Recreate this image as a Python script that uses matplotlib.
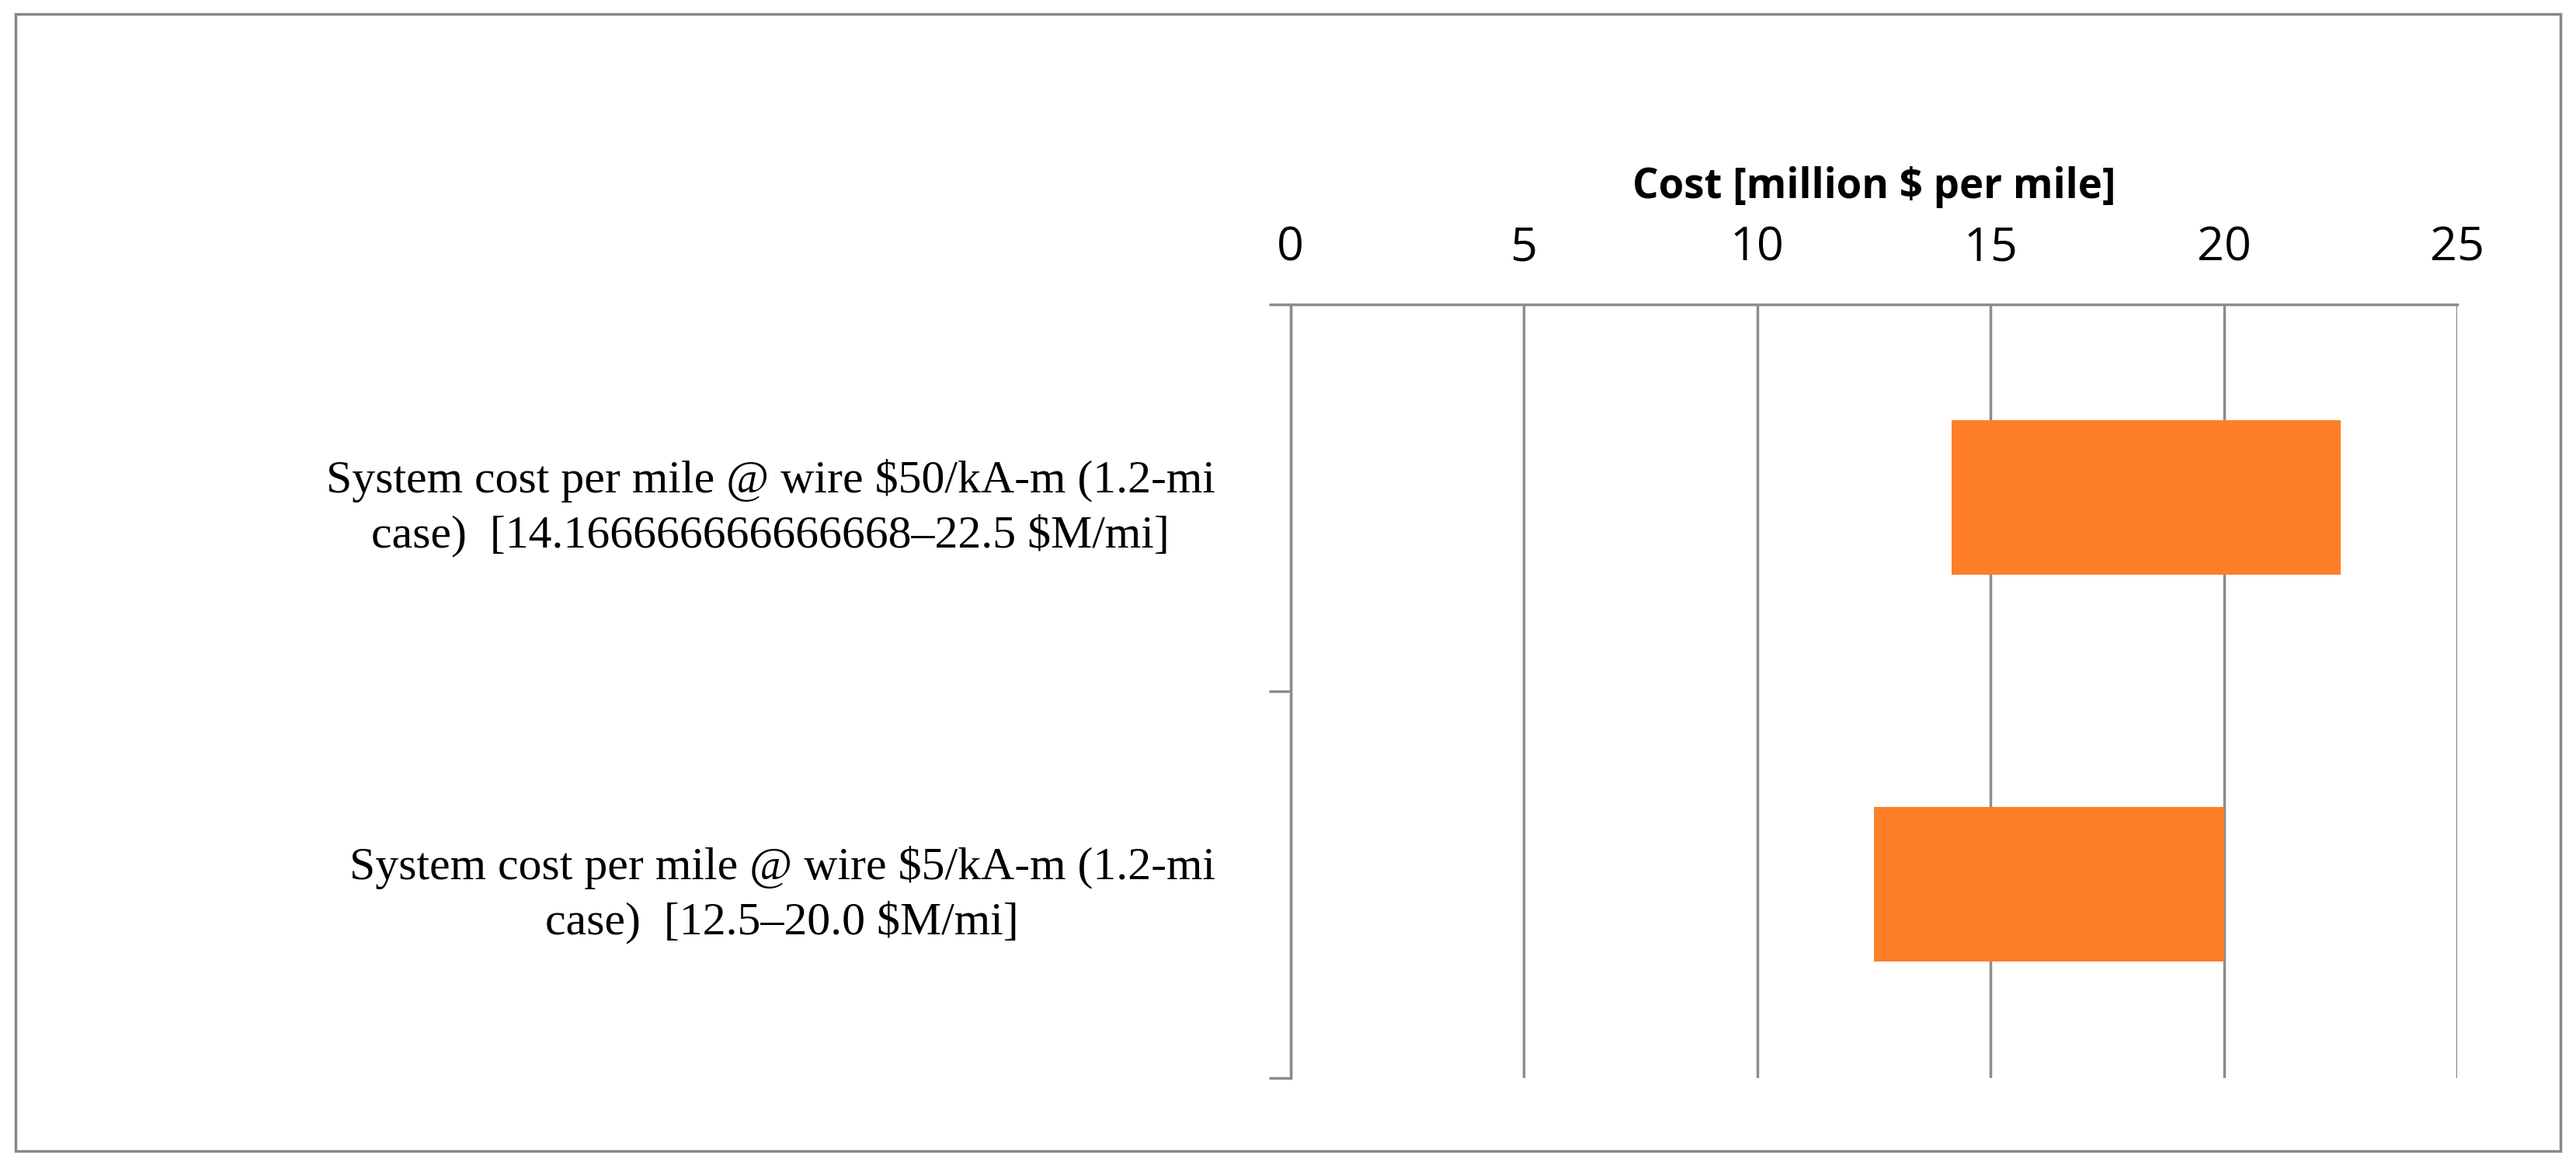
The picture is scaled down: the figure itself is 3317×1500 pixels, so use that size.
import matplotlib
matplotlib.use("Agg")
import matplotlib.pyplot as plt
from matplotlib.patches import Rectangle

categories = ["System cost per mile @ wire $50/kA-m (1.2-mi\ncase)  [14.166666666666668–22.5 $M/mi]",
              "System cost per mile @ wire $5/kA-m (1.2-mi\ncase)  [12.5–20.0 $M/mi]"]
low = [14.166666666666668, 12.5]
high = [22.5, 20.0]
xticks = [0, 5, 10, 15, 20, 25]

fig = plt.figure(figsize=(33.17, 15), dpi=100)
fig.patches.append(Rectangle((0.006, 0.012), 0.988, 0.976, transform=fig.transFigure,
                             fill=False, edgecolor="#888888", linewidth=2.5))
ax = fig.add_axes([0.501, 0.075, 0.453, 0.664])
gray = "#8c8c8c"
ypos = [0, 1]
ax.barh(ypos, [h - l for l, h in zip(low, high)], left=low, height=0.4, color="#fe7f27", zorder=3)
ax.set_xlim(0, 25)
ax.set_ylim(1.5, -0.5)
ax.set_xticks(xticks)
ax.set_xticklabels([str(t) for t in xticks], fontsize=44, family="Open Sans")
ax.xaxis.tick_top()
ax.xaxis.set_label_position("top")
ax.tick_params(axis="x", length=0, pad=30)
ax.grid(axis="x", color=gray, linewidth=2.5, zorder=1)
ax.set_xlabel("Cost [million $ per mile]", fontsize=38, fontweight="bold",
              family="Open Sans", labelpad=25)
ax.set_yticks([-0.5, 0.5, 1.5])
ax.set_yticklabels([])
ax.tick_params(axis="y", which="major", length=20, width=2.5, color=gray, direction="out")
ax.set_yticks(ypos, minor=True)
ax.set_yticklabels(categories, minor=True, fontsize=43, family="Liberation Serif",
                   multialignment="center", linespacing=1.35)
ax.tick_params(axis="y", which="minor", length=0, pad=70)
for s in ["right", "bottom"]:
    ax.spines[s].set_visible(False)
for s in ["left", "top"]:
    ax.spines[s].set_color(gray)
    ax.spines[s].set_linewidth(2.5)
fig.savefig("out.png", dpi=100)
